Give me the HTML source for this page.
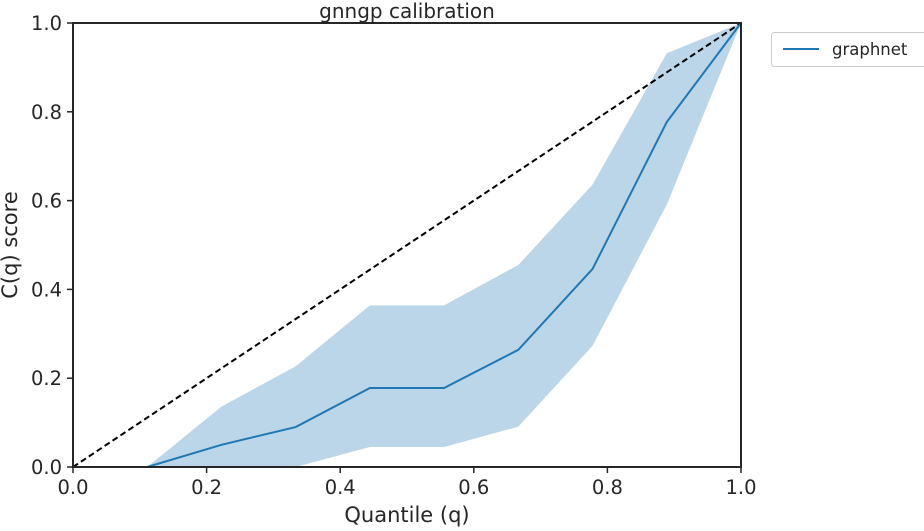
<!DOCTYPE html>
<html><head><meta charset="utf-8">
<style>
body{margin:0;background:#fff;width:924px;height:527px;overflow:hidden;font-family:"DejaVu Sans","Liberation Sans",sans-serif;}
svg text{font-family:"DejaVu Sans","Liberation Sans",sans-serif;fill:#262626;}
</style></head>
<body>
<svg id="chart" width="924" height="527" xmlns="http://www.w3.org/2000/svg"></svg>
<script>
const quantiles = [0, 1/9, 2/9, 3/9, 4/9, 5/9, 6/9, 7/9, 8/9, 1];
const scores = [0, 0, 0.05, 0.09, 0.178, 0.178, 0.264, 0.446, 0.777, 1.0];
const upper = [0, 0, 0.136, 0.227, 0.364, 0.364, 0.455, 0.636, 0.932, 1.0];
const lower = [0, 0, 0, 0, 0.045, 0.045, 0.091, 0.273, 0.591, 1.0];
const xTicks = [0, 0.2, 0.4, 0.6, 0.8, 1.0];
const yTicks = [0, 0.2, 0.4, 0.6, 0.8, 1.0];
const tickLabels = ["0.0", "0.2", "0.4", "0.6", "0.8", "1.0"];

const X0 = 73, X1 = 741, Y0 = 467, Y1 = 23;
const sx = v => X0 + v * (X1 - X0);
const sy = v => Y0 - v * (Y0 - Y1);
const svg = document.getElementById('chart');
const NS = 'http://www.w3.org/2000/svg';
function mk(tag, attrs, parent) {
  const e = document.createElementNS(NS, tag);
  for (const k in attrs) e.setAttribute(k, attrs[k]);
  (parent || svg).appendChild(e);
  return e;
}

let d = quantiles.map((q, i) => (i ? 'L' : 'M') + sx(q) + ',' + sy(upper[i])).join('');
for (let i = quantiles.length - 1; i >= 0; i--) d += 'L' + sx(quantiles[i]) + ',' + sy(lower[i]);
const band = mk('path', {d: d + 'Z', fill: '#1f77b4', 'fill-opacity': 0.3});



const diag = mk('line', {x1: sx(0), y1: sy(0), x2: sx(1), y2: sy(1), stroke: '#000', 'stroke-width': 2, 'stroke-dasharray': '6,3.5'});



const line = mk('polyline', {points: quantiles.map((q, i) => sx(q) + ',' + sy(scores[i])).join(' '), fill: 'none', stroke: '#1f77b4', 'stroke-width': 2});



const frame = mk('rect', {x: X0, y: Y1, width: X1 - X0, height: Y0 - Y1, fill: 'none', stroke: '#262626', 'stroke-width': 2});



xTicks.forEach((v, i) => {
  const t = mk('line', {x1: sx(v), x2: sx(v), y1: Y0, y2: Y0 + 6, stroke: '#262626', 'stroke-width': 1.5});
  
  
  const l = mk('text', {x: sx(v), y: Y0 + 27, 'text-anchor': 'middle', 'font-size': 19.5});
  l.textContent = tickLabels[i];
  
  
});
yTicks.forEach((v, i) => {
  const t = mk('line', {x1: X0 - 6, x2: X0, y1: sy(v), y2: sy(v), stroke: '#262626', 'stroke-width': 1.5});
  
  
  const l = mk('text', {x: X0 - 11, y: sy(v) + 7, 'text-anchor': 'end', 'font-size': 19.5});
  l.textContent = tickLabels[i];
  
  
});
</script>
<svg width="924" height="527" style="position:absolute;left:0;top:0;pointer-events:none" xmlns="http://www.w3.org/2000/svg">
  <text x="407" y="18" text-anchor="middle" font-size="20">gnngp calibration</text>
  <text x="407" y="522" text-anchor="middle" font-size="21">Quantile (q)</text>
  <text transform="translate(17,245) rotate(-90)" text-anchor="middle" font-size="21">C(q) score</text>
  <g>
    <rect x="771.5" y="32.5" width="155" height="34" rx="3" fill="#fff" stroke="#ccc"/>
    <line x1="783" y1="49" x2="819" y2="49" stroke="#1f77b4" stroke-width="2"/>
    <text x="832" y="55" font-size="16.5">graphnet</text>
  </g>
</svg>
</body></html>
